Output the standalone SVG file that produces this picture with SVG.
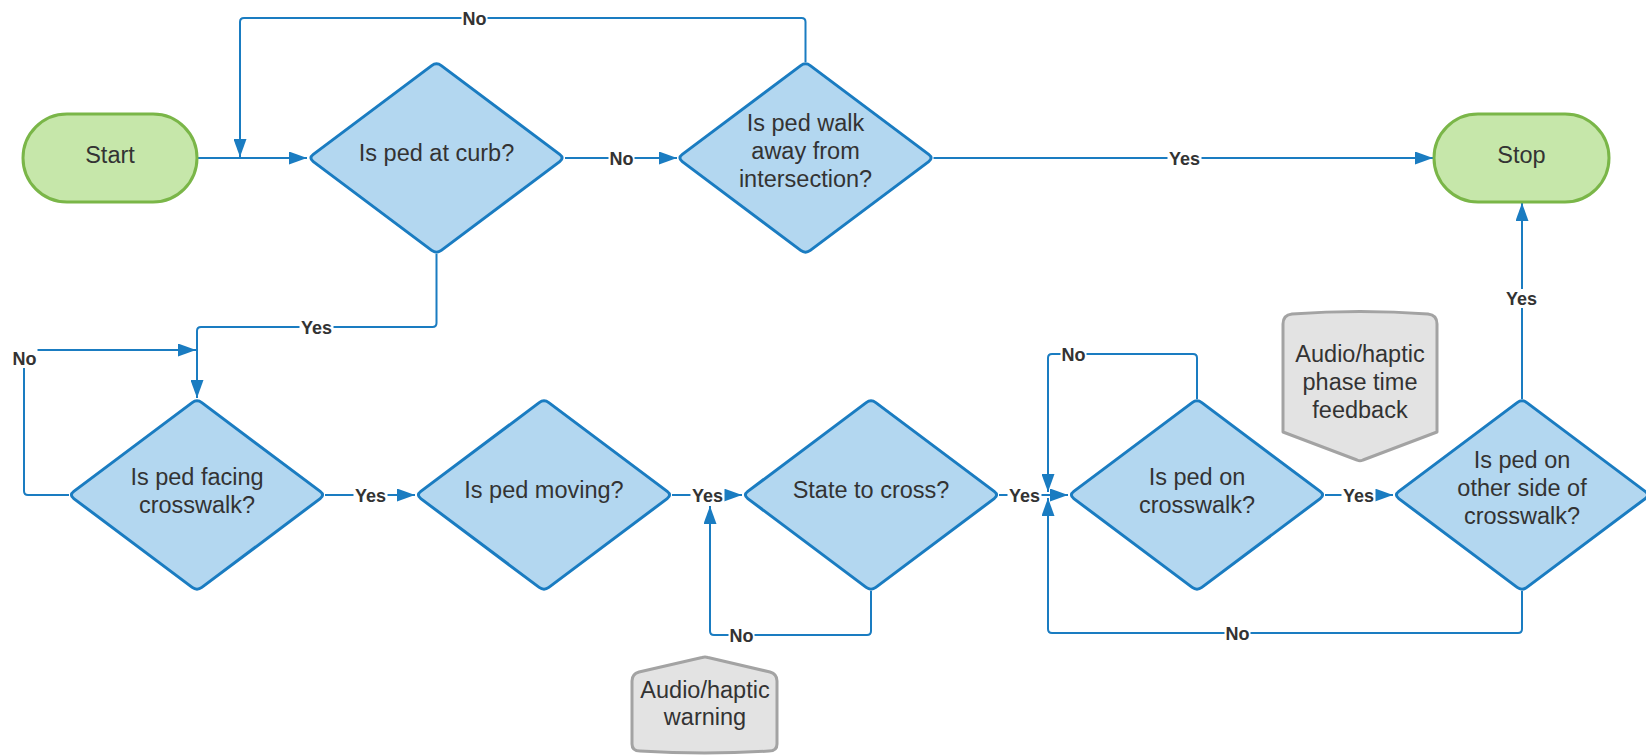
<svg xmlns="http://www.w3.org/2000/svg" xmlns:xlink="http://www.w3.org/1999/xlink" width="1646" height="755" viewBox="0 0 1646 755">
  <style>
    .dia { fill: #b3d7f0; stroke: #1a7cc1; stroke-width: 3; stroke-linejoin: round; }
    .term { fill: #c6e7aa; stroke: #7ab648; stroke-width: 3; }
    .note { fill: #e3e3e3; stroke: #a3a3a3; stroke-width: 3; stroke-linejoin: round; }
    .txt { font-family: "Liberation Sans", Arial, sans-serif; font-size: 23.5px; fill: #333333; text-anchor: middle; }
    .conn { fill: none; stroke: #1a7cc1; stroke-width: 2; }
    .lbl { font-family: "Liberation Sans", Arial, sans-serif; font-size: 18px; font-weight: bold; fill: #333333; text-anchor: middle; }
    .lblbg { fill: #ffffff; }
  </style>
  <defs>
    <path id="diamond" d="M-4.8,-92.4 Q0,-96 4.8,-92.4 L123.2,-3.6 Q128,0 123.2,3.6 L4.8,92.4 Q0,96 -4.8,92.4 L-123.2,3.6 Q-128,0 -123.2,-3.6 Z"/>
    <marker id="arrow" viewBox="0 0 18 13" refX="18" refY="6.5" markerWidth="18" markerHeight="13" markerUnits="userSpaceOnUse" orient="auto">
      <path d="M0,0 L18,6.5 L0,13 Z" fill="#1a7cc1"/>
    </marker>
  </defs>

  <rect width="1646" height="755" fill="#ffffff"/>

  <!-- connectors -->
  <g id="connectors">
    <path class="conn" d="M197,158 H307" marker-end="url(#arrow)"/>
    <path class="conn" d="M805.5,62 V22 Q805.5,18 801.5,18 H244 Q240,18 240,22 V157" marker-end="url(#arrow)"/>
    <path class="conn" d="M565,158 H677" marker-end="url(#arrow)"/>
    <path class="conn" d="M933.5,158 H1433" marker-end="url(#arrow)"/>
    <path class="conn" d="M436.5,254 V323 Q436.5,327 432.5,327 H201 Q197,327 197,331 V398" marker-end="url(#arrow)"/>
    <path class="conn" d="M69,495 H28 Q24,495 24,491 V354 Q24,350 28,350 H196" marker-end="url(#arrow)"/>
    <path class="conn" d="M325,495 H415" marker-end="url(#arrow)"/>
    <path class="conn" d="M672,495 H742" marker-end="url(#arrow)"/>
    <path class="conn" d="M871,591 V631 Q871,635 867,635 H714 Q710,635 710,631 V506" marker-end="url(#arrow)"/>
    <path class="conn" d="M999,495 H1068" marker-end="url(#arrow)"/>
    <path class="conn" d="M1197,399 V358 Q1197,354 1193,354 H1052 Q1048,354 1048,358 V492" marker-end="url(#arrow)"/>
    <path class="conn" d="M1325,495 H1393" marker-end="url(#arrow)"/>
    <path class="conn" d="M1522,591 V629 Q1522,633 1518,633 H1052 Q1048,633 1048,629 V498" marker-end="url(#arrow)"/>
    <path class="conn" d="M1522,399 V203" marker-end="url(#arrow)"/>

    <!-- connector labels -->
    <g>
      <rect class="lblbg" x="461.5" y="9" width="26" height="19"/>
      <text class="lbl" x="474.5" y="24.5">No</text>
      <rect class="lblbg" x="608.5" y="149" width="26" height="19"/>
      <text class="lbl" x="621.5" y="164.5">No</text>
      <rect class="lblbg" x="1167.5" y="149" width="34" height="19"/>
      <text class="lbl" x="1184.5" y="164.5">Yes</text>
      <rect class="lblbg" x="299.5" y="318" width="34" height="19"/>
      <text class="lbl" x="316.5" y="333.5">Yes</text>
      <rect class="lblbg" x="11.5" y="348" width="26" height="20"/>
      <text class="lbl" x="24.5" y="364.5">No</text>
      <rect class="lblbg" x="353.5" y="486" width="34" height="19"/>
      <text class="lbl" x="370.5" y="501.5">Yes</text>
      <rect class="lblbg" x="690.5" y="486" width="34" height="19"/>
      <text class="lbl" x="707.5" y="501.5">Yes</text>
      <rect class="lblbg" x="728.5" y="626" width="26" height="19"/>
      <text class="lbl" x="741.5" y="641.5">No</text>
      <rect class="lblbg" x="1007.5" y="486" width="34" height="19"/>
      <text class="lbl" x="1024.5" y="501.5">Yes</text>
      <rect class="lblbg" x="1060.5" y="345" width="26" height="19"/>
      <text class="lbl" x="1073.5" y="360.5">No</text>
      <rect class="lblbg" x="1341.5" y="486" width="34" height="19"/>
      <text class="lbl" x="1358.5" y="501.5">Yes</text>
      <rect class="lblbg" x="1224.5" y="624" width="26" height="19"/>
      <text class="lbl" x="1237.5" y="639.5">No</text>
      <rect class="lblbg" x="1504.5" y="289" width="34" height="19"/>
      <text class="lbl" x="1521.5" y="304.5">Yes</text>
    </g>
  </g>

  <!-- terminals -->
  <g id="start">
    <rect class="term" x="23" y="114" width="174" height="88" rx="44" ry="44"/>
    <text class="txt" x="110" y="163">Start</text>
  </g>
  <g id="stop">
    <rect class="term" x="1434" y="114" width="175" height="88" rx="44" ry="44"/>
    <text class="txt" x="1521.5" y="163">Stop</text>
  </g>

  <!-- decisions -->
  <g id="at-curb" transform="translate(436.5,158)">
    <use xlink:href="#diamond" class="dia"/>
    <text class="txt" x="0" y="3">Is ped at curb?</text>
  </g>
  <g id="walk-away" transform="translate(805.5,158)">
    <use xlink:href="#diamond" class="dia"/>
    <text class="txt" x="0" y="-27">Is ped walk</text>
    <text class="txt" x="0" y="1">away from</text>
    <text class="txt" x="0" y="29">intersection?</text>
  </g>
  <g id="facing-crosswalk" transform="translate(197,495)">
    <use xlink:href="#diamond" class="dia"/>
    <text class="txt" x="0" y="-10">Is ped facing</text>
    <text class="txt" x="0" y="18">crosswalk?</text>
  </g>
  <g id="moving" transform="translate(544,495)">
    <use xlink:href="#diamond" class="dia"/>
    <text class="txt" x="0" y="3">Is ped moving?</text>
  </g>
  <g id="state-to-cross" transform="translate(871,495)">
    <use xlink:href="#diamond" class="dia"/>
    <text class="txt" x="0" y="3">State to cross?</text>
  </g>
  <g id="on-crosswalk" transform="translate(1197,495)">
    <use xlink:href="#diamond" class="dia"/>
    <text class="txt" x="0" y="-10">Is ped on</text>
    <text class="txt" x="0" y="18">crosswalk?</text>
  </g>
  <g id="other-side" transform="translate(1522,495)">
    <use xlink:href="#diamond" class="dia"/>
    <text class="txt" x="0" y="-27">Is ped on</text>
    <text class="txt" x="0" y="1">other side of</text>
    <text class="txt" x="0" y="29">crosswalk?</text>
  </g>

  <!-- feedback notes -->
  <g id="phase-feedback">
    <path class="note" d="M1283,324 Q1283,315 1292,314 Q1360,309 1428,314 Q1437,315 1437,324 V432 L1363,460 Q1360,461.5 1357,460 L1283,432 Z"/>
    <text class="txt" x="1360" y="362">Audio/haptic</text>
    <text class="txt" x="1360" y="390">phase time</text>
    <text class="txt" x="1360" y="418">feedback</text>
  </g>
  <g id="warning">
    <path class="note" d="M632,744 V681 Q632,674 639,672 L702,657.5 Q705,656.5 708,657.5 L770,672 Q777,674 777,681 V744 Q777,751 769,751 Q705,755 640,751 Q632,751 632,744 Z"/>
    <text class="txt" x="705" y="698">Audio/haptic</text>
    <text class="txt" x="705" y="725">warning</text>
  </g>
</svg>
